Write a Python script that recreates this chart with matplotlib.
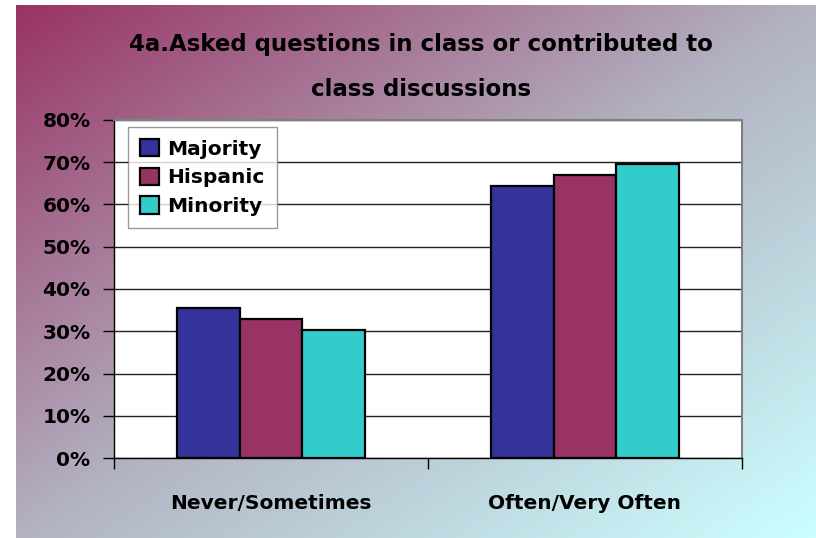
import matplotlib
matplotlib.use("Agg")
import matplotlib.pyplot as plt
import numpy as np
from matplotlib.colors import LinearSegmentedColormap
from matplotlib.patches import Patch

# Chart data.
categories = ["Never/Sometimes", "Often/Very Often"]
groups = ["Majority", "Hispanic", "Minority"]
majority = [35.6, 64.4]
hispanic = [32.9, 67.1]
minority = [30.3, 69.7]
title_lines = ["4a.Asked questions in class or contributed to", "class discussions"]

bar_colors = ["#333399", "#993366", "#33CCCC"]
font = "DejaVu Sans"

fig = plt.figure(figsize=(8.16, 5.38), dpi=100, facecolor="white")

# Diagonal gradient background (magenta -> grey -> light cyan).
bg = fig.add_axes([16 / 816, 0, 800 / 816, 533 / 538], zorder=-10)
grad_cmap = LinearSegmentedColormap.from_list(
    "bg", [(0.0, "#993366"), (0.5, "#b2b2c2"), (1.0, "#ccffff")])
xx, yy = np.meshgrid(np.linspace(0, 1, 400), np.linspace(0, 1, 270))
bg.imshow((xx + yy) / 2, cmap=grad_cmap, aspect="auto", extent=(0, 1, 1, 0),
          interpolation="bilinear")
bg.axis("off")

ax = fig.add_axes([114 / 816, 80 / 538, 628 / 816, 338 / 538])
ax.set_facecolor("white")

x = np.arange(len(categories))
width = 0.2
series = [majority, hispanic, minority]
for i, (name, vals) in enumerate(zip(groups, series)):
    ax.bar(x + (i - 1) * width, vals, width, color=bar_colors[i],
           edgecolor="black", linewidth=1.6, label=name, zorder=3)

ax.set_xlim(-0.5, 1.5)
ax.set_ylim(0, 80)
ax.set_yticks(np.arange(0, 81, 10))
ax.set_yticklabels([f"{v}%" for v in range(0, 81, 10)],
                   fontsize=14.5, fontweight="bold", family=font)
ax.yaxis.grid(True, color="#222222", linewidth=1.0, zorder=0)
ax.tick_params(axis="y", direction="out", length=8, width=1, pad=9)

ax.set_xticks(x)
ax.set_xticklabels(categories, fontsize=14.5, fontweight="bold", family=font)
ax.set_xticks([-0.5, 0.5, 1.5], minor=True)
ax.tick_params(axis="x", which="major", length=0, pad=26)
ax.tick_params(axis="x", which="minor", direction="out", length=8, width=1)

for side in ["top", "right"]:
    ax.spines[side].set_color("#808080")
    ax.spines[side].set_linewidth(1.5)
for side in ["left", "bottom"]:
    ax.spines[side].set_color("black")
    ax.spines[side].set_linewidth(1.0)

handles = [Patch(facecolor=c, edgecolor="black", linewidth=1.6, label=g)
           for g, c in zip(groups, bar_colors)]
leg = ax.legend(handles=handles, loc="upper left", bbox_to_anchor=(14 / 628, 331 / 338),
                prop={"family": font, "weight": "bold", "size": 14.5},
                frameon=True, fancybox=False, edgecolor="#808080",
                handlelength=0.95, handleheight=0.95, handletextpad=0.4,
                labelspacing=0.45, borderpad=0.6, borderaxespad=0)
leg.get_frame().set_linewidth(1.0)

fig.text(421 / 816, 1 - 45 / 538, title_lines[0], ha="center", va="center",
         fontsize=16.5, fontweight="bold", family=font)
fig.text(421 / 816, 1 - 90 / 538, title_lines[1], ha="center", va="center",
         fontsize=16.5, fontweight="bold", family=font)

fig.savefig("out.png", dpi=100, facecolor=fig.get_facecolor())
